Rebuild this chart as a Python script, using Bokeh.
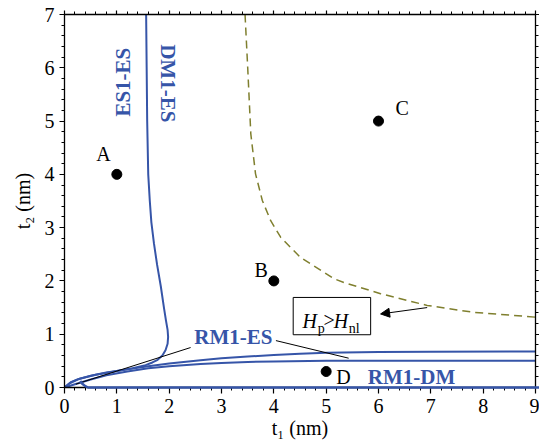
import math
from bokeh.plotting import figure
from bokeh.models import (LinearAxis, FixedTicker, Label, BoxAnnotation,
                          Arrow, NormalHead, Range1d)
from bokeh.embed import file_html
from bokeh.resources import INLINE

# ---------------- data ----------------
# DM1-ES / ES1-ES boundary (nearly vertical branch)
dm1_es_t1 = [0.0, 0.12, 0.3, 0.6, 1.0, 1.3, 1.55, 1.68, 1.78, 1.87, 1.93, 1.97, 1.98,
             1.97, 1.94, 1.90, 1.84, 1.77, 1.71, 1.66, 1.63, 1.60, 1.58, 1.57, 1.56, 1.56]
dm1_es_t2 = [0.0, 0.1, 0.17, 0.24, 0.31, 0.36, 0.42, 0.47, 0.52, 0.60, 0.70, 0.82, 0.95,
             1.08, 1.25, 1.5, 1.9, 2.3, 2.7, 3.1, 3.5, 4.0, 5.0, 6.0, 7.0, 7.3]
# RM1-ES boundaries (two nearly horizontal branches)
rm1_es_up_t1 = [0.0, 0.1, 0.25, 0.5, 0.8, 1.2, 1.6, 2.0, 2.6, 3.0, 3.5, 4.0, 4.5, 5.0, 6.0, 7.0, 9.2]
rm1_es_up_t2 = [0.0, 0.08, 0.15, 0.22, 0.28, 0.34, 0.40, 0.45, 0.51, 0.55, 0.58, 0.61, 0.635, 0.65, 0.665, 0.67, 0.675]
rm1_es_lo_t1 = [0.0, 0.2, 0.5, 0.8, 1.2, 1.6, 2.0, 2.6, 3.0, 3.5, 4.0, 5.0, 9.2]
rm1_es_lo_t2 = [0.0, 0.06, 0.15, 0.23, 0.30, 0.36, 0.40, 0.44, 0.46, 0.48, 0.49, 0.50, 0.50]
# RM1-DM boundary
rm1_dm_t1 = [0.30, 0.34, 0.39, 0.45, 9.2]
rm1_dm_t2 = [0.12, 0.07, 0.03, 0.0, 0.0]
# Hp > Hnl boundary (dashed)
hp_t1 = [3.45, 3.50, 3.56, 3.65, 3.78, 3.94, 4.13, 4.51, 5.15, 5.34, 6.04, 6.93, 7.82, 9.0]
hp_t2 = [7.0, 6.02, 4.76, 4.01, 3.51, 3.13, 2.82, 2.44, 2.04, 1.97, 1.76, 1.54, 1.41, 1.32]
# marked points
pt_names = ["A", "B", "C", "D"]
pt_t1 = [1.0, 4.0, 6.0, 5.0]
pt_t2 = [4.0, 2.0, 5.0, 0.3]
# axes
x_lim = (0, 9)
y_lim = (0, 7)
x_major = [0, 1, 2, 3, 4, 5, 6, 7, 8, 9]
y_major = [0, 1, 2, 3, 4, 5, 6, 7]
x_title = "t\u2081 (nm)"
y_title = "t\u2082 (nm)"

BLUE = "#3655a8"
OLIVE = "#7f7f2e"
SERIF = "Liberation Serif"
FS = "20px"
FS_SUB = "14px"

p = figure(width=539, height=448, output_backend="svg", toolbar_location=None,
           x_range=Range1d(*x_lim), y_range=Range1d(*y_lim),
           min_border_left=64, min_border_right=4, min_border_top=14, min_border_bottom=61)
p.grid.visible = False
p.outline_line_color = None

p.add_layout(LinearAxis(), "above")
p.add_layout(LinearAxis(), "right")

x_minor = [i / 5 for i in range(0, 46)]
y_minor = [i / 5 for i in range(0, 36)]

for ax in p.axis:
    ax.major_tick_in = 0
    ax.minor_tick_in = 0
    ax.major_tick_out = 6
    ax.minor_tick_out = 3
    ax.axis_line_color = "black"
    ax.axis_line_width = 1.3
    ax.major_tick_line_color = "black"
    ax.minor_tick_line_color = "black"
    ax.major_tick_line_width = 1.2
    ax.minor_tick_line_width = 1
    ax.major_label_text_font = SERIF
    ax.major_label_text_color = "black"
    ax.major_label_text_font_size = FS
    ax.major_label_standoff = 5
    ax.axis_label_text_font = SERIF
    ax.axis_label_text_font_size = FS
    ax.axis_label_text_font_style = "normal"
    ax.axis_label_text_color = "black"

for ax in p.above + p.below:
    ax.ticker = FixedTicker(ticks=x_major, minor_ticks=x_minor)
for ax in p.left + p.right:
    ax.ticker = FixedTicker(ticks=y_major, minor_ticks=y_minor)

for ax in p.above + p.right:
    ax.major_label_text_font_size = "0px"
    ax.major_label_standoff = 0
    ax.major_label_text_color = None
    ax.major_tick_out = 4

p.left[0].major_tick_out = 5
p.below[0].axis_label = x_title
p.below[0].axis_label_standoff = 1
p.left[0].axis_label = y_title
p.left[0].axis_label_standoff = 8

p.line(hp_t1, hp_t2, line_color=OLIVE, line_width=1.5, line_dash="8 5")
p.line(dm1_es_t1, dm1_es_t2, line_color=BLUE, line_width=2)
p.line(rm1_es_up_t1, rm1_es_up_t2, line_color=BLUE, line_width=2)
p.line(rm1_es_lo_t1, rm1_es_lo_t2, line_color=BLUE, line_width=2)
r_dm = p.line(rm1_dm_t1, rm1_dm_t2, line_color=BLUE, line_width=2.5)
r_dm.level = "overlay"

p.segment(x0=[2.41, 4.04], y0=[0.75, 0.88], x1=[0.22, 5.43], y1=[0.064, 0.55],
          line_color="black", line_width=1)
p.scatter(pt_t1, pt_t2, size=10, color="black")


def lab(x, y, text, size=FS, style="normal", color="black", align="center",
        baseline="middle", angle=0.0):
    p.add_layout(Label(x=x, y=y, text=text, text_font=SERIF, text_font_size=size,
                       text_font_style=style, text_color=color, text_align=align,
                       text_baseline=baseline, angle=angle, angle_units="rad"))


for name, lx, ly in zip(pt_names, [0.744, 3.76, 6.45, 5.33], [4.39, 2.21, 5.25, 0.19]):
    lab(lx, ly, name)

lab(3.226, 0.94, "RM1-ES", size="21px", style="bold", color=BLUE)
lab(6.63, 0.20, "RM1-DM", size="21px", style="bold", color=BLUE)
lab(1.11, 5.73, "ES1-ES", size="21px", style="bold", color=BLUE, angle=math.pi / 2)
lab(1.97, 5.71, "DM1-ES", size="21px", style="bold", color=BLUE, angle=-math.pi / 2)

p.add_layout(BoxAnnotation(left=4.37, right=5.85, bottom=0.99, top=1.69,
                           fill_color="white", fill_alpha=1.0,
                           line_color="black", line_alpha=1.0, line_width=1))
lab(4.55, 1.253, "H", style="italic", align="left", baseline="alphabetic")
lab(4.84, 1.10, "p", size=FS_SUB, align="left", baseline="alphabetic")
lab(4.95, 1.27, ">", align="left", baseline="alphabetic")
lab(5.145, 1.253, "H", style="italic", align="left", baseline="alphabetic")
lab(5.43, 1.10, "nl", size=FS_SUB, align="left", baseline="alphabetic")
p.add_layout(Arrow(end=NormalHead(size=9, fill_color="black", line_color="black"),
                   x_start=6.93, y_start=1.50, x_end=6.04, y_end=1.38,
                   line_color="black", line_width=1))

open("out.html", "w").write(file_html(p, INLINE))
